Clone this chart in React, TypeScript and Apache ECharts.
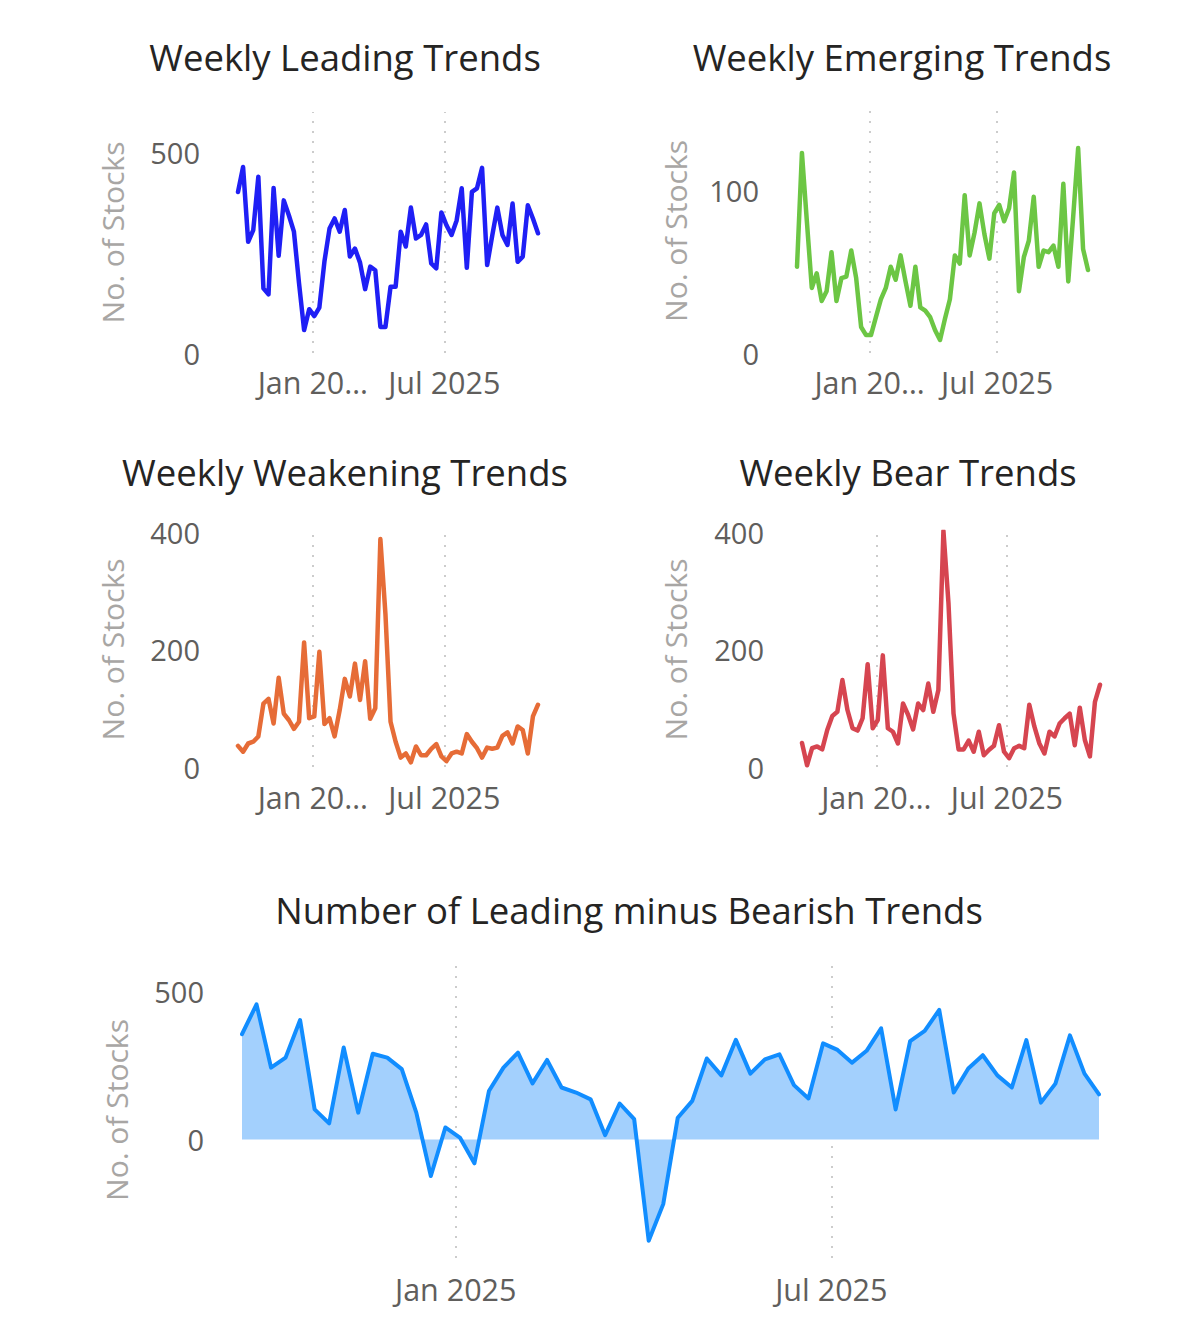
import React, { useEffect, useRef } from "react";
import * as echarts from "echarts";

// Weekly observation dates (Fridays)
const weekDates = [
  "2024-09-20", "2024-09-27", "2024-10-04", "2024-10-11", "2024-10-18", "2024-10-25",
  "2024-11-01", "2024-11-08", "2024-11-15", "2024-11-22", "2024-11-29", "2024-12-06",
  "2024-12-13", "2024-12-20", "2024-12-27", "2025-01-03", "2025-01-10", "2025-01-17",
  "2025-01-24", "2025-01-31", "2025-02-07", "2025-02-14", "2025-02-21", "2025-02-28",
  "2025-03-07", "2025-03-14", "2025-03-21", "2025-03-28", "2025-04-04", "2025-04-11",
  "2025-04-18", "2025-04-25", "2025-05-02", "2025-05-09", "2025-05-16", "2025-05-23",
  "2025-05-30", "2025-06-06", "2025-06-13", "2025-06-20", "2025-06-27", "2025-07-04",
  "2025-07-11", "2025-07-18", "2025-07-25", "2025-08-01", "2025-08-08", "2025-08-15",
  "2025-08-22", "2025-08-29", "2025-09-05", "2025-09-12", "2025-09-19", "2025-09-26",
  "2025-10-03", "2025-10-10", "2025-10-17", "2025-10-24", "2025-10-31", "2025-11-07",
];

const leading = [
  401, 463, 277, 306, 439, 161, 146, 411, 242, 380, 343, 302, 174, 57, 109, 92, 113, 228,
  310, 335, 302, 356, 240, 260, 225, 159, 215, 206, 65, 65, 165, 165, 302, 265, 362, 285,
  294, 320, 223, 211, 350, 318, 294, 330, 410, 212, 401, 410, 461, 219, 292, 362, 294, 269,
  372, 227, 240, 368, 335, 298,
];

const emerging = [
  53, 123, 81, 40, 49, 32, 38, 62, 32, 46, 47, 63, 46, 16, 11, 11, 22, 33,
  40, 53, 45, 60, 44, 29, 53, 28, 26, 22, 14, 8, 21, 33, 60, 55, 97, 60,
  74, 92, 73, 58, 86, 91, 81, 89, 111, 38, 59, 69, 96, 53, 63, 62, 66, 53,
  104, 44, 84, 126, 64, 51,
];

const weakening = [
  36, 26, 40, 43, 52, 108, 116, 74, 152, 91, 80, 65, 77, 212, 83, 86, 196, 73,
  83, 52, 97, 150, 120, 176, 114, 180, 82, 100, 388, 260, 77, 43, 16, 23, 8, 35,
  20, 20, 31, 39, 18, 10, 23, 26, 23, 56, 43, 32, 16, 33, 31, 33, 53, 59,
  40, 69, 63, 23, 86, 106,
];

const bear = [
  41, 3, 32, 35, 30, 63, 87, 94, 148, 97, 66, 62, 83, 175, 66, 80, 190, 66,
  60, 40, 108, 89, 64, 108, 97, 142, 94, 131, 402, 279, 91, 30, 30, 45, 26, 60,
  20, 29, 36, 71, 26, 15, 32, 36, 32, 106, 69, 40, 23, 60, 52, 74, 83, 91,
  37, 101, 46, 18, 111, 140,
];

const leadingMinusBear = [
  356, 457, 243, 277, 404, 102, 55, 311, 91, 290, 277, 238, 91, -123, 41, 7, -80, 164,
  243, 294, 190, 269, 176, 159, 136, 15, 122, 69, -342, -218, 74, 131, 274, 217, 337, 223,
  271, 288, 184, 139, 325, 303, 260, 300, 376, 102, 333, 367, 438, 159, 240, 285, 217, 176,
  336, 125, 189, 352, 223, 153,
];

const xTickDates = ["2025-01-01", "2025-07-01"];
const xTickLabelsShort = ["Jan 20…", "Jul 2025"];
const xTickLabelsLong = ["Jan 2025", "Jul 2025"];
const yTicksLeading = [0, 500];
const yTicksEmerging = [0, 100];
const yTicksWeak = [0, 200, 400];
const yTicksNet = [0, 500];
const titles = [
  "Weekly Leading Trends",
  "Weekly Emerging Trends",
  "Weekly Weakening Trends",
  "Weekly Bear Trends",
  "Number of Leading minus Bearish Trends",
];
const yAxisName = "No. of Stocks";

function ts(s: string): number {
  const [y, m, d] = s.split("-").map(Number);
  return new Date(y, m - 1, d).getTime();
}

const FONT = "'Segoe UI', 'Open Sans', 'Noto Sans', sans-serif";

export default function App() {
  const ref = useRef<HTMLDivElement>(null);

  useEffect(() => {
    if (!ref.current) return;
    const chart = echarts.init(ref.current, undefined, { renderer: "svg" });

    const xMin = ts(weekDates[0]);
    const xMax = ts(weekDates[weekDates.length - 1]);
    const tickTs = xTickDates.map(ts);

    const panels = [
      { title: titles[0], values: leading, color: "#1f1ff5", grid: { left: 238, top: 112, width: 300, height: 241 }, min: 0, max: 600, yTicks: yTicksLeading, tx: 345, ty: 57, labels: xTickLabelsShort, nameGap: 111, xMargin: 13, width: 4.5, area: false },
      { title: titles[1], values: emerging, color: "#6cc644", grid: { left: 797, top: 109, width: 291, height: 244 }, min: 0, max: 150, yTicks: yTicksEmerging, tx: 902, ty: 57, labels: xTickLabelsShort, nameGap: 107, xMargin: 13, width: 4.5, area: false },
      { title: titles[2], values: weakening, color: "#e66c37", grid: { left: 238, top: 532, width: 300, height: 235 }, min: 0, max: 400, yTicks: yTicksWeak, tx: 345, ty: 472, labels: xTickLabelsShort, nameGap: 111, xMargin: 14, width: 4.5, area: false },
      { title: titles[3], values: bear, color: "#d64550", grid: { left: 802, top: 532, width: 298, height: 235 }, min: 0, max: 400, yTicks: yTicksWeak, tx: 908, ty: 472, labels: xTickLabelsShort, nameGap: 112, xMargin: 14, width: 4.5, area: false },
      { title: titles[4], values: leadingMinusBear, color: "#118dff", grid: { left: 242, top: 962, width: 857, height: 296 }, min: -400, max: 600, yTicks: yTicksNet, tx: 629, ty: 910, labels: xTickLabelsLong, nameGap: 111, xMargin: 15, width: 4, area: true },
    ];

    const option: any = {
      animation: false,
      backgroundColor: "#ffffff",
      textStyle: { fontFamily: FONT },
      title: panels.map((p) => ({
        text: p.title,
        left: p.tx,
        top: p.ty,
        padding: 0,
        textAlign: "center",
        textVerticalAlign: "middle",
        textStyle: { fontFamily: FONT, fontSize: 36.5, fontWeight: "normal", color: "#252423" },
      })),
      grid: panels.map((p) => ({ ...p.grid, containLabel: false, outerBoundsMode: "none" })),
      xAxis: panels.map((p, i) => ({
        type: "value",
        gridIndex: i,
        min: xMin,
        max: xMax,
        axisLine: { show: false },
        axisTick: { show: false },
        splitLine: { show: false },
        axisLabel: {
          customValues: tickTs,
          margin: p.xMargin,
          fontSize: 30.5,
          color: "#605e5c",
          fontFamily: FONT,
          formatter: (val: number) => {
            const idx = tickTs.findIndex((t) => Math.abs(t - val) < 86400000);
            return idx >= 0 ? p.labels[idx] : "";
          },
        },
      })),
      yAxis: panels.map((p, i) => ({
        type: "value",
        gridIndex: i,
        min: p.min,
        max: p.max,
        name: yAxisName,
        nameLocation: "middle",
        nameRotate: 90,
        nameGap: p.nameGap,
        nameTextStyle: { fontSize: 30, color: "#a8a6a4", fontFamily: FONT },
        axisLine: { show: false },
        axisTick: { show: false },
        splitLine: { show: false },
        axisLabel: {
          customValues: p.yTicks,
          margin: 38,
          fontSize: 29,
          color: "#605e5c",
          fontFamily: FONT,
        },
      })),
      series: panels.map((p, i) => ({
        type: "line",
        xAxisIndex: i,
        yAxisIndex: i,
        data: weekDates.map((d, k) => [ts(d), p.values[k]]),
        showSymbol: false,
        symbol: "none",
        lineStyle: { color: p.color, width: p.width, join: "round", cap: "round" },
        itemStyle: { color: p.color },
        areaStyle: p.area ? { color: "#a3d0fd", opacity: 1, origin: 0 } : undefined,
        z: 3,
        markLine: {
          silent: true,
          z: 1,
          symbol: ["none", "none"],
          label: { show: false },
          lineStyle: { color: "#bcbcbc", width: 1.5, type: [2, 8] },
          data: tickTs.map((t) => ({ xAxis: t })),
        },
      })),
    };

    chart.setOption(option);
    return () => chart.dispose();
  }, []);

  return (
    <div
      ref={ref}
      style={{ position: "absolute", left: 0, top: 0, width: 1200, height: 1340, background: "#fff" }}
    />
  );
}
